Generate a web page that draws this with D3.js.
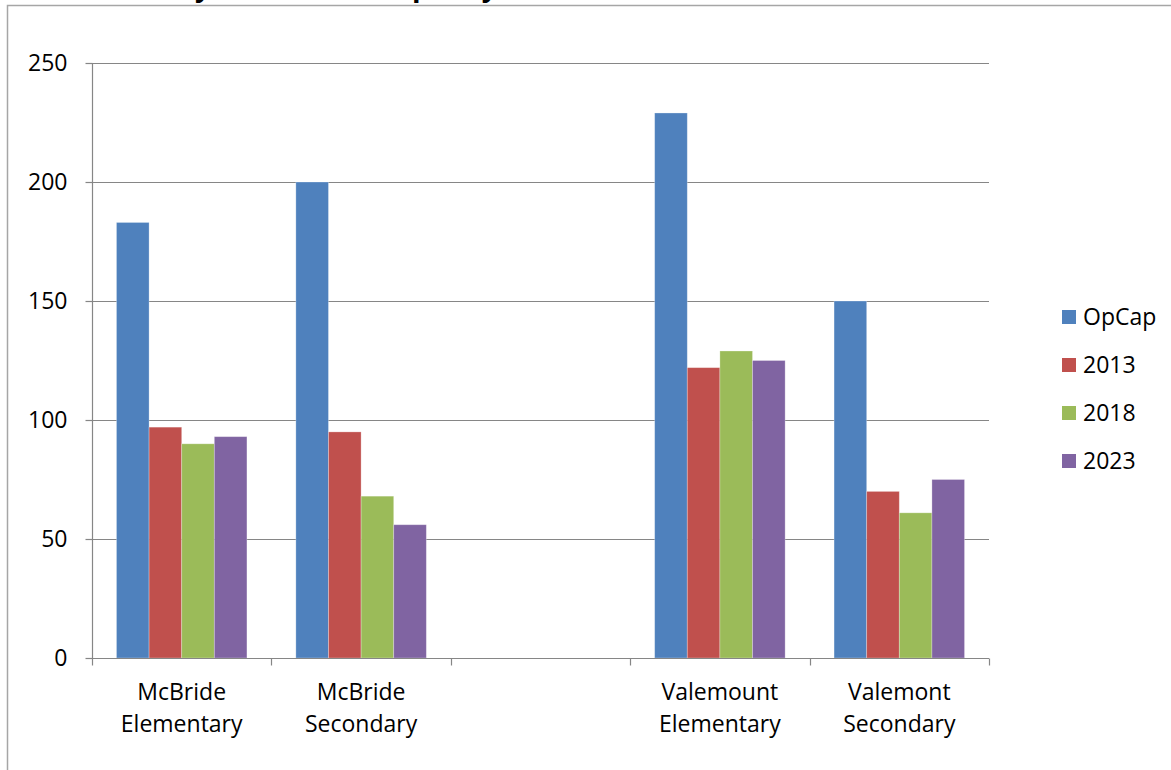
<!DOCTYPE html>
<html>
<head>
<meta charset="utf-8">
<script src="https://cdn.jsdelivr.net/npm/d3@7"></script>
<style>
  html, body { margin: 0; padding: 0; background: #fff; }
  svg { display: block; font-family: "Open Sans", "DejaVu Sans", sans-serif; }
</style>
</head>
<body>
<svg id="chart" width="1171" height="770"></svg>
<script>
// School enrolment compared with operating capacity
const titleText = "Enrolment by School and Capacity";
const categories = ["McBride Elementary", "McBride Secondary", "", "Valemount Elementary", "Valemont Secondary"];
const seriesNames = ["OpCap", "2013", "2018", "2023"];
const opCap   = [183, 200, null, 229, 150];
const enr2013 = [97, 95, null, 122, 70];
const enr2018 = [90, 68, null, 129, 61];
const enr2023 = [93, 56, null, 125, 75];
const yTicks = [0, 50, 100, 150, 200, 250];
const colors = ["#4F81BD", "#C0504D", "#9BBB59", "#8064A2"];

const seriesValues = [opCap, enr2013, enr2018, enr2023];

const svg = d3.select("#chart");
const plot = { left: 92, right: 989, top: 63, bottom: 658 };

// Title sits above the frame; only its descenders reach into the page
const title = svg.append("text")
  .attr("y", -4.5)
  .attr("font-size", 28)
  .attr("font-weight", "bold")
  .attr("fill", "#000")
  .text(titleText);
const pIndex = titleText.indexOf("p");
const pOffset = title.node().getSubStringLength(0, pIndex);
title.attr("x", 412 - pOffset);

// Chart frame
svg.append("path")
  .attr("d", `M7.5,775 V5.5 H1180`)
  .attr("fill", "none")
  .attr("stroke", "#a6a6a6")
  .attr("stroke-width", 1.5);

const x0 = d3.scaleBand()
  .domain(d3.range(categories.length))
  .range([plot.left, plot.right])
  .padding(0);

const x1 = d3.scaleBand()
  .domain(seriesNames)
  .range([0, x0.bandwidth()])
  .paddingInner(0)
  .paddingOuter(0.75);

const y = d3.scaleLinear().domain([0, 250]).range([plot.bottom, plot.top]);

// Horizontal gridlines
svg.append("g")
  .selectAll("line")
  .data(yTicks.filter(d => d > 0))
  .join("line")
  .attr("x1", plot.left).attr("x2", plot.right)
  .attr("y1", d => Math.round(y(d)) + 0.5).attr("y2", d => Math.round(y(d)) + 0.5)
  .attr("stroke", "#868686").attr("stroke-width", 1.2);

// Bars
const groups = svg.append("g")
  .selectAll("g")
  .data(categories.map((c, i) => ({ c, i })))
  .join("g")
  .attr("transform", d => `translate(${x0(d.i)},0)`);

groups.selectAll("rect")
  .data(d => seriesNames.map((s, k) => ({ s, k, v: seriesValues[k][d.i] })).filter(e => e.v != null))
  .join("rect")
  .attr("x", d => x1(d.s))
  .attr("width", x1.bandwidth())
  .attr("y", d => y(d.v))
  .attr("height", d => y(0) - y(d.v))
  .attr("fill", d => colors[d.k])
  .attr("stroke", "rgba(255,255,255,0.35)")
  .attr("stroke-width", 0.8);

// Y axis
const yAxis = d3.axisLeft(y).tickValues(yTicks).tickSize(7).tickPadding(18).tickFormat(d3.format("d"));
const gy = svg.append("g").attr("transform", `translate(${plot.left + 0.5},0)`).call(yAxis);
gy.select(".domain").attr("stroke", "#868686").attr("stroke-width", 1.2).attr("d", `M0,${plot.top}V${plot.bottom}`);
gy.selectAll(".tick line").attr("stroke", "#868686").attr("stroke-width", 1.2);
gy.selectAll(".tick text").attr("font-size", 23).attr("fill", "#000")
  .attr("font-family", "'Open Sans', sans-serif");

// X axis baseline and category dividers
const xAxisG = svg.append("g").attr("transform", `translate(0,${plot.bottom + 0.5})`);
xAxisG.append("line")
  .attr("x1", plot.left).attr("x2", plot.right)
  .attr("stroke", "#868686").attr("stroke-width", 1.2);
const dividers = d3.range(categories.length + 1).map(i => i < categories.length ? x0(i) : plot.right);
xAxisG.selectAll(".div")
  .data(dividers)
  .join("line")
  .attr("class", "div")
  .attr("x1", d => Math.round(d) + 0.5).attr("x2", d => Math.round(d) + 0.5)
  .attr("y1", 0).attr("y2", 7)
  .attr("stroke", "#868686").attr("stroke-width", 1.2);

// Category labels, two lines each
const labels = svg.append("g").attr("font-size", 23).attr("fill", "#000").attr("text-anchor", "middle");
categories.forEach((c, i) => {
  if (!c) return;
  const cx = x0(i) + x0.bandwidth() / 2;
  const t = labels.append("text").attr("x", cx).attr("y", 700);
  c.split(" ").forEach((w, j) => {
    t.append("tspan").attr("x", cx).attr("dy", j === 0 ? 0 : 32).text(w);
  });
});

// Legend
const legend = svg.append("g").attr("transform", "translate(1062,317)");
const items = legend.selectAll("g")
  .data(seriesNames)
  .join("g")
  .attr("transform", (d, i) => `translate(0,${i * 48})`);
items.append("rect")
  .attr("x", 0).attr("y", -7).attr("width", 14).attr("height", 14)
  .attr("fill", (d, i) => colors[i]);
items.append("text")
  .attr("x", 21).attr("y", 0).attr("dy", "0.35em")
  .attr("font-size", 23).attr("fill", "#000")
  .text(d => d);
</script>
</body>
</html>
